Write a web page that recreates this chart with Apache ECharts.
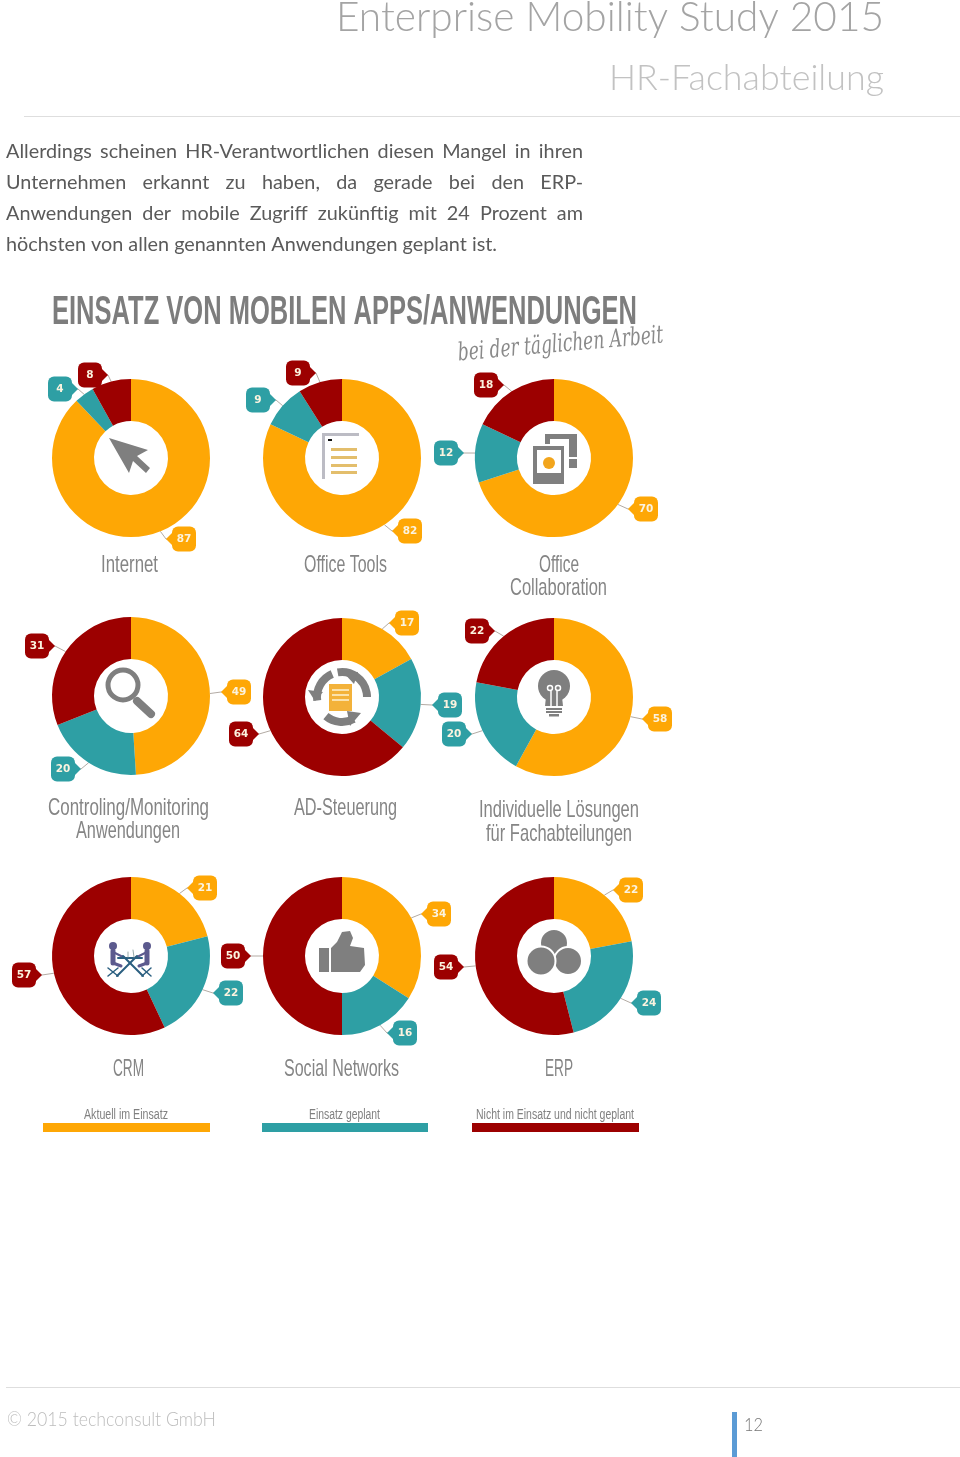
<!DOCTYPE html>
<html><head><meta charset="utf-8">
<style>html,body{margin:0;padding:0;background:#fff}#c{width:960px;height:1457px}</style>
<script src="https://cdn.jsdelivr.net/npm/echarts@6/dist/echarts.min.js"></script>
</head><body><div id="c"></div>
<script>
// ---- data ----
const categories = ['Internet','Office Tools','Office Collaboration','Controling/Monitoring Anwendungen','AD-Steuerung','Individuelle Lösungen für Fachabteilungen','CRM','Social Networks','ERP'];
const inUse   = [87,82,70,49,17,58,21,34,22];
const planned = [4,9,12,20,19,20,22,16,24];
const notUsed = [8,9,18,31,64,22,57,50,54];
const legendNames = ['Aktuell im Einsatz','Einsatz geplant','Nicht im Einsatz und nicht geplant'];
const bodyLines = [
 'Allerdings scheinen HR-Verantwortlichen diesen Mangel in ihren',
 'Unternehmen erkannt zu haben, da gerade bei den ERP-',
 'Anwendungen der mobile Zugriff zukünftig mit 24 Prozent am',
 'höchsten von allen genannten Anwendungen geplant ist.'];

// ---- layout & style ----
const colors = ['#FEA705','#2E9FA4','#9C0000'];
const centers = [[131,458],[342,458],[554,458],[131,696],[342,697],[554,697],[131,956],[342,956],[554,956]];
const callouts = [
 [[184,539],[60,389],[90,375]],
 [[410,531],[258,400],[298,373]],
 [[646,509],[446,453],[486,385]],
 [[239,692],[63,769],[37,646]],
 [[407,623],[450,705],[241,734]],
 [[660,719],[454,734],[477,631]],
 [[205,888],[231,993],[24,975]],
 [[439,914],[405,1033],[233,956]],
 [[631,890],[649,1003],[446,967]]];
const catText = [
 [['Internet',101,158,565]],
 [['Office Tools',304,387,565]],
 [['Office',539,579,565],['Collaboration',510,607,588]],
 [['Controling/Monitoring',48,209,808],['Anwendungen',76,180,831]],
 [['AD-Steuerung',294,397,808]],
 [['Individuelle Lösungen',479,639,810],['für Fachabteilungen',486,632,834]],
 [['CRM',113,144,1069]],
 [['Social Networks',284,399,1069]],
 [['ERP',545,573,1069]]];
const legendPos = [[84,168,43,210],[309,380,262,428],[476,634,472,639]];
const NARROW = '"Liberation Sans Narrow","Liberation Sans",sans-serif';
const GREY = '#7f7f7f';

const ctx = document.createElement('canvas').getContext('2d');
function width(t,font){ctx.font=font;return ctx.measureText(t).width;}
function fit(t,x0,x1,yc,font,fill,extra){
  return Object.assign({type:'text',x:x0,y:yc,z:20,scaleX:(x1-x0)/width(t,font),
    style:{text:t,font:font,fill:fill,align:'left',verticalAlign:'middle'}},extra||{});
}
const g = [];
const rect=(x,y,w,h,fill,z)=>({type:'rect',z:z||20,shape:{x,y,width:w,height:h},style:{fill}});
const circ=(cx,cy,r,fill,stroke,lw)=>({type:'circle',z:20,shape:{cx,cy,r},style:{fill,stroke,lineWidth:lw||0}});
const poly=(pts,fill)=>({type:'polygon',z:20,shape:{points:pts},style:{fill}});
const line=(x1,y1,x2,y2,stroke,lw)=>({type:'line',z:20,shape:{x1,y1,x2,y2},style:{stroke,lineWidth:lw,lineCap:'round'}});
const arc=(cx,cy,r,a0,a1,cw,lw)=>({type:'arc',z:20,shape:{cx,cy,r,startAngle:a0*Math.PI/180,endAngle:a1*Math.PI/180,clockwise:cw},style:{stroke:GREY,fill:'none',lineWidth:lw}});

// page furniture
g.push(fit('Enterprise Mobility Study 2015',336,884,18,'300 41px Lato,sans-serif','#a4a4a4'));
g.push(fit('HR-Fachabteilung',609,884,79,'300 35px Lato,sans-serif','#c2c2c2'));
g.push(rect(24,116,936,1,'#dedede'));
g.push(rect(6,1387,954,1,'#dedede'));
g.push(fit('© 2015 techconsult GmbH',7,216,1420,'300 19px Lato,sans-serif','#bdbdbd'));
g.push(rect(732,1412,5,45,'#5B9BD5'));
g.push(fit('12',744,763,1425,'300 18px Lato,sans-serif','#777'));

// justified body text
const bodyFont='20px Lato,sans-serif';
const bodyScale=491/width(bodyLines[3],bodyFont);
bodyLines.forEach((l,i)=>{
  const words=l.split(' ');
  const ww=words.map(w=>width(w,bodyFont)*bodyScale);
  const total=ww.reduce((a,b)=>a+b,0);
  const gap=i<3?(577-total)/(words.length-1):(491-total)/(words.length-1);
  let x=6;
  words.forEach((w,k)=>{
    g.push({type:'text',x,y:152+i*31,z:20,scaleX:bodyScale,style:{text:w,font:bodyFont,fill:'#5a5a5a',align:'left',verticalAlign:'middle'}});
    x+=ww[k]+gap;
  });
});

// infographic title
g.push(fit('EINSATZ VON MOBILEN APPS/ANWENDUNGEN',52,637,313,'bold 40px '+NARROW,'#7d7d7d'));
g.push(fit('bei der täglichen Arbeit',458,664,354,'italic 25px "DejaVu Serif",serif','#8a8a8a',{rotation:5*Math.PI/180}));

// category captions
catText.forEach(ls=>ls.forEach(([t,a,b,y])=>g.push(fit(t,a,b,y,'24px '+NARROW,'#858585'))));
// legend
legendNames.forEach((t,i)=>{
  const p=legendPos[i];
  g.push(fit(t,p[0],p[1],1115,'14px '+NARROW,'#808080'));
  g.push(rect(p[2],1123,p[3]-p[2],9,colors[i]));
});
// callout pointers
callouts.forEach((row,i)=>row.forEach((p,j)=>{
  const d=centers[i][0]>p[0]?1:-1;
  g.push({type:'polygon',z:30,shape:{points:[[p[0]+d*11,p[1]-7],[p[0]+d*11,p[1]+7],[p[0]+d*18,p[1]]]},style:{fill:colors[j]}});
}));

// icons
g.push(poly([[109,438],[148,450],[137,456],[150,468],[146,473],[133,461],[129,473]],GREY));
// office tools
g.push(rect(322,433,37,3,'#bcbcc4'),rect(322,433,3,46,'#bcbcc4'),rect(328,439,4,2,'#111'));
[448,456,464,471].forEach(y=>g.push(rect(331,y,26,3,'#E3BE6C')));
// collaboration
g.push(rect(545,434,32,5,GREY),rect(545,434,5,10,GREY),rect(569,434,8,34,GREY),rect(569,457,8,2,'#fff'));
g.push(rect(533,446,31,38,GREY),rect(537,450,24,23,'#fff'),circ(549,463,6,'#F2A51C'));
// magnifier
g.push(circ(123,685,15,'#fff',GREY,5),line(137,701,151,714,GREY,8));
// AD
g.push(arc(342,697,25,-113,172,false,8),arc(342,697,25,-100,0,true,8),arc(342,697,25,130,62,false,8));
g.push(poly([[308,690],[323,692],[315,701]],GREY),poly([[342,671],[358,672],[354,684]],GREY),poly([[347,711],[361,713],[350,726]],GREY));
g.push(rect(329,684,23,27,'#F3B23A'));
[689,694,699].forEach(y=>g.push(rect(332,y,17,2,'#fbe2ac')));
// bulb
g.push(circ(554,686,16,GREY),poly([[546,697],[562,697],[563,706],[545,706]],GREY),
  rect(546,708,16,2,GREY),rect(546,711,16,2,GREY),rect(549,714,10,2.5,GREY));
g.push(line(551,691,551,706,'#fff',1.5),line(557,691,557,706,'#fff',1.5),
  circ(550,688,2.5,'none','#fff',1.5),circ(558,688,2.5,'none','#fff',1.5));
// CRM
const P='#5C5A8E',D='#2B5F80';
g.push(circ(113,946,4,P),circ(147,946,4,P),
  line(113,951,113,963,P,5),line(147,951,147,963,P,5),line(113,963,121,966,P,3),line(147,963,139,966,P,3),
  line(115,953,125,958,P,2),line(145,953,135,958,P,2),
  line(117,976,137,956,D,2),line(143,976,123,956,D,2),line(118,958,142,958,D,2),
  line(108,968,118,976,D,1.5),line(118,968,108,976,D,1.5),line(142,968,151,976,D,1.5),line(151,968,142,976,D,1.5),
  line(128,952,128,957,'#9aa',1),line(133,950,134,957,'#9aa',1));
// thumb
g.push(rect(319,948,10,24,GREY),poly([[331,948],[337,942],[342,932],[350,931],[353,938],[350,946],[364,948],[365,965],[360,972],[331,972]],GREY));
// ERP circles
g.push(circ(554,943,14,GREY,'#fff',2),circ(568,961,14,GREY,'#fff',2),circ(541,961,14.5,GREY,'#fff',2));

// pies
const series = categories.map((name,i)=>({
  type:'pie', name, center:centers[i], radius:[37,79], startAngle:90, clockwise:true,
  avoidLabelOverlap:false, silent:true, animation:false,
  itemStyle:{borderWidth:0},
  label:{show:true,position:'outside',formatter:'{c}',color:'#fbf3df',fontFamily:'"DejaVu Sans",sans-serif',fontWeight:'bold',fontSize:10.5,
    width:24,height:25,lineHeight:25,align:'center',verticalAlign:'middle',borderRadius:6},
  labelLine:{show:true,length:8,length2:6,lineStyle:{color:'#b3aba4',width:1}},
  labelLayout:(p)=>{const q=callouts[i][p.dataIndex];return {x:q[0],y:q[1],align:'center',verticalAlign:'middle'};},
  data:[inUse[i],planned[i],notUsed[i]].map((v,j)=>({value:v,name:legendNames[j],itemStyle:{color:colors[j]},label:{backgroundColor:colors[j]}}))
}));

const chart = echarts.init(document.getElementById('c'),null,{renderer:'canvas',width:960,height:1457});
chart.setOption({animation:false,backgroundColor:'#fff',series,graphic:{elements:g}});
</script></body></html>
